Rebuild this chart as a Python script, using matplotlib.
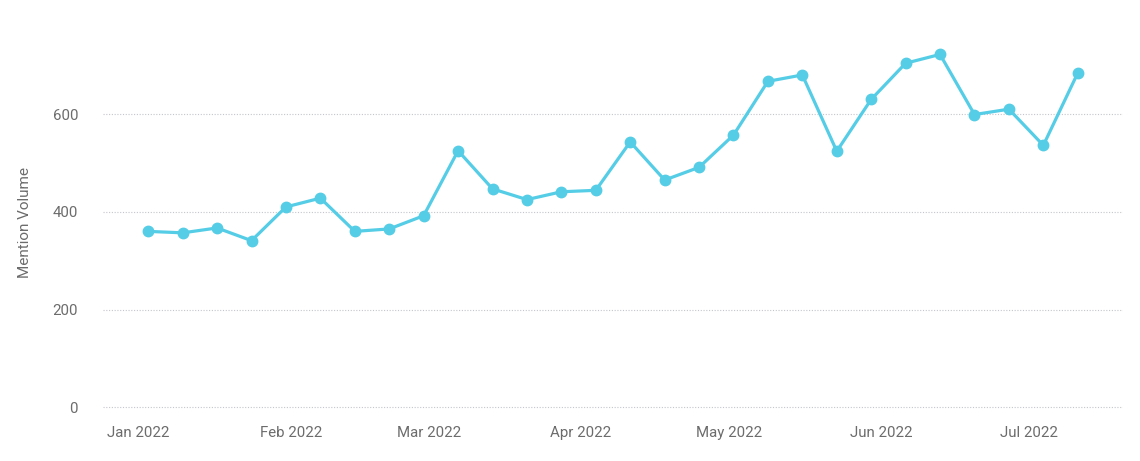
import matplotlib as mpl
mpl.use('Agg')
import matplotlib.pyplot as plt
import matplotlib.dates as mdates
import pandas as pd

# weekly mention counts, weeks starting Monday
week_start = pd.date_range('2022-01-03', periods=28, freq='7D')
mentions = [360, 357, 367, 341, 410, 428, 360, 365, 392, 525,
            447, 425, 441, 444, 543, 465, 491, 557, 667, 680,
            524, 630, 704, 722, 599, 610, 536, 684]
y_ticks = [0, 200, 400, 600]

plt.rcParams['font.family'] = ['Roboto', 'DejaVu Sans']

fig = plt.figure(figsize=(11.4, 4.61), dpi=100)
ax = fig.add_axes([103 / 1140, (461 - 409.3) / 461, 1020 / 1140, 393 / 461])

ax.plot(week_start, mentions, color='#55cde6', lw=2.3, marker='o', ms=7.5,
        solid_joinstyle='round', zorder=3)

pad = pd.Timedelta(days=9.2)
ax.set_xlim(week_start[0] - pad, week_start[-1] + pad)
ax.set_ylim(-4, 800)
ax.set_yticks(y_ticks)

ax.xaxis.set_major_locator(mdates.MonthLocator())
ax.xaxis.set_major_formatter(mdates.DateFormatter('%b %Y'))

ax.grid(axis='y', color='#c4c6cc', linestyle=(0, (1, 1.5)), lw=0.8)
ax.set_axisbelow(True)
for s in ax.spines.values():
    s.set_visible(False)
ax.tick_params(length=0, labelsize=10.8, labelcolor='#6c6c6c')
ax.tick_params(axis='x', pad=12)
ax.tick_params(axis='y', pad=18)

ax.set_ylabel('Mention Volume', fontsize=11, color='#6c6c6c')
ax.yaxis.set_label_coords(-71 / 1020, (409.3 - 222) / 393)

fig.savefig('out.png')
